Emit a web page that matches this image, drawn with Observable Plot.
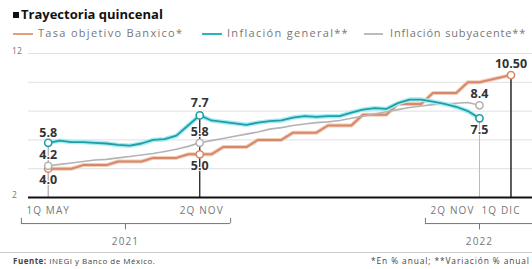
<!DOCTYPE html>
<html><head><meta charset="utf-8">
<script src="https://cdn.jsdelivr.net/npm/d3@7"></script>
<script src="https://cdn.jsdelivr.net/npm/@observablehq/plot@0.6"></script>
<style>
body{margin:0;width:532px;height:269px;overflow:hidden;background:#fff;font-family:"Open Sans",sans-serif;position:relative}
.abs{position:absolute;white-space:nowrap}
#title{left:13px;top:5px;font-size:13px;font-weight:bold;color:#111;letter-spacing:0px}
#title .sq{display:inline-block;width:6px;height:6px;background:#111;margin-right:2px;vertical-align:1px}
.leg{top:25px;font-size:11px;color:#777;letter-spacing:1.3px}
.sw{position:absolute;top:33px;height:2px}
#sep{left:0;top:252px;width:532px;height:1px;background:#ccc}
.foot{top:255px;font-size:8px;color:#444;letter-spacing:0.5px}
#chart{position:absolute;left:0;top:42px}
</style></head><body>
<div id="title" class="abs"><span class="sq"></span>Trayectoria quincenal</div>
<div class="sw" style="left:13px;width:20px;background:#e0a07f"></div>
<div class="abs leg" style="left:38px">Tasa objetivo Banxico*</div>
<div class="sw" style="left:202px;width:20px;background:#2bb3c0"></div>
<div class="abs leg" style="left:227px">Inflación general**</div>
<div class="sw" style="left:364px;width:19px;background:#bbb"></div>
<div class="abs leg" style="left:390px;letter-spacing:0.85px">Inflación subyacente**</div>
<div id="chart"></div>
<div id="sep" class="abs"></div>
<div class="abs foot" style="left:13px"><b>Fuente:</b> INEGI y Banco de México.</div>
<div class="abs foot" style="left:371px;font-size:8.4px;letter-spacing:0.9px">*En % anual; **Variación % anual</div>
<script>
// fortnight index: 0 = 1Q May 2021 ... 37 = 2Q Nov 2022
const quincena = d3.range(38);
const inflacionGeneral = [5.8,5.95,5.85,5.85,5.8,5.75,5.65,5.6,5.75,6.0,6.05,6.3,7.0,7.7,
  7.35,7.25,7.15,7.05,7.2,7.3,7.35,7.55,7.65,7.6,7.65,7.65,7.9,8.1,8.2,8.15,8.55,8.8,8.8,8.65,8.5,8.3,8.0,7.5];
const inflacionSubyacente = [4.2,4.3,4.4,4.5,4.6,4.65,4.75,4.85,4.95,5.05,5.2,5.35,5.55,5.8,
  5.95,6.1,6.25,6.4,6.55,6.75,6.85,7.0,7.1,7.2,7.25,7.35,7.5,7.65,7.8,7.95,8.1,8.25,8.35,8.45,8.5,8.55,8.6,8.4];
const tasaObjetivo = [4.0,4.0,4.0,4.25,4.25,4.25,4.5,4.5,4.5,4.75,4.75,4.75,5.0,5.0,
  5.0,5.5,5.5,5.5,6.0,6.0,6.0,6.5,6.5,6.5,7.0,7.0,7.0,7.75,7.75,7.75,8.5,8.5,8.5,9.25,9.25,9.25,10.0,10.0];
const tasaDicQ = 39.7, tasaDic = 10.5; // 1Q DIC 2022
const yTickLabels = [12, 2];
const gridValues = [4, 6, 8, 10, 12];
const tickLabels = [
  {q: 0, t: "1Q MAY", a: "middle", dx: 0},
  {q: 13, t: "2Q NOV", a: "middle", dx: 2},
  {q: 37, t: "2Q NOV", a: "end", dx: -5},
  {q: 37, t: "1Q DIC", a: "start", dx: 2}
];
const years = [
  {t: "2021", x1: -2.3, x2: 15.65, mid: 6.63},
  {t: "2022", x1: 32.36, x2: 43, mid: 37}
];

const C_ORANGE = "#d6896a", C_ORANGE_H = "#f3cdb8";
const C_TEAL = "#1f9ea9", C_TEAL_H = "#a6ecf1";
const C_GRAY = "#b3b3b3";

const gen = quincena.map((q, i) => ({q, v: inflacionGeneral[i]}));
const sub = quincena.map((q, i) => ({q, v: inflacionSubyacente[i]}));
const tasa = quincena.map((q, i) => ({q, v: tasaObjetivo[i]})).concat([{q: tasaDicQ, v: tasaDic}]);

const last = quincena.length - 1;
const vlines = [
  {q: 0, top: inflacionGeneral[0], c: "#999", w: 1},
  {q: 13, top: inflacionGeneral[13], c: "#222", w: 1.3},
  {q: last, top: inflacionGeneral[last], c: "#bbb", w: 1},
  {q: tasaDicQ, top: tasaDic, c: "#333", w: 1.6}
];
const markers = [
  {q: 0, v: tasaObjetivo[0], c: C_ORANGE}, {q: 0, v: inflacionSubyacente[0], c: C_GRAY}, {q: 0, v: inflacionGeneral[0], c: C_TEAL},
  {q: 13, v: tasaObjetivo[13], c: C_ORANGE}, {q: 13, v: inflacionSubyacente[13], c: C_GRAY}, {q: 13, v: inflacionGeneral[13], c: C_TEAL},
  {q: last, v: inflacionSubyacente[last], c: C_GRAY}, {q: last, v: inflacionGeneral[last], c: C_TEAL},
  {q: tasaDicQ, v: tasaDic, c: C_ORANGE}
];
const labels = [
  {q: 0, v: inflacionGeneral[0], t: "5.8", dy: -10},
  {q: 0, v: inflacionSubyacente[0], t: "4.2", dy: -11},
  {q: 0, v: tasaObjetivo[0], t: "4.0", dy: 11},
  {q: 13, v: inflacionGeneral[13], t: "7.7", dy: -12},
  {q: 13, v: inflacionSubyacente[13], t: "5.8", dy: -11},
  {q: 13, v: tasaObjetivo[13], t: "5.0", dy: 12},
  {q: last, v: inflacionSubyacente[last], t: "8.4", dy: -11},
  {q: last, v: inflacionGeneral[last], t: "7.5", dy: 12},
  {q: tasaDicQ, v: tasaDic, t: "10.50", dy: -11}
];

const X0 = -1.69, X1 = 45;
const chart = Plot.plot({
  width: 532, height: 210, margin: 0,
  x: {domain: [0, 37], range: [47.7, 479], axis: null},
  y: {domain: [2, 12], range: [155, 11], axis: null},
  style: {fontFamily: "Open Sans, sans-serif", background: "transparent"},
  marks: [
    Plot.ruleY(gridValues, {x1: X0, x2: X1, stroke: "#e0e0e0", strokeWidth: 1}),
    Plot.text(yTickLabels, {x: -3.1, y: d => d, text: d => String(d), textAnchor: "start", fontSize: 8.5, fill: "#777", dy: -2}),
    Plot.ruleX(vlines, {x: "q", y1: 2, y2: "top", stroke: "c", strokeWidth: "w"}),
    Plot.line(tasa, {x: "q", y: "v", stroke: C_ORANGE_H, strokeWidth: 4}),
    Plot.line(tasa, {x: "q", y: "v", stroke: C_ORANGE, strokeWidth: 2}),
    Plot.line(sub, {x: "q", y: "v", stroke: C_GRAY, strokeWidth: 1.6}),
    Plot.line(gen, {x: "q", y: "v", stroke: C_TEAL_H, strokeWidth: 4.5}),
    Plot.line(gen, {x: "q", y: "v", stroke: C_TEAL, strokeWidth: 1.8}),
    Plot.ruleY([2], {x1: X0, x2: X1, stroke: "#111", strokeWidth: 2}),
    Plot.dot(markers, {x: "q", y: "v", r: 3.6, fill: "white", stroke: "c", strokeWidth: 1.6}),
    ...labels.map(d => Plot.text([d], {x: "q", y: "v", text: "t", dy: d.dy, fontSize: 12.5, fontWeight: "bold", fill: "#333",
      stroke: "white", strokeWidth: 2, paintOrder: "stroke"})),
    ...tickLabels.map(d => Plot.text([d], {x: "q", y: 1.1, text: "t", textAnchor: d.a, dx: d.dx, fontSize: 10, fill: "#777"})),
    Plot.ruleY(years, {x1: "x1", x2: "x2", y: 0.19, stroke: "#777", strokeWidth: 1}),
    Plot.ruleX(years, {x: "x1", y1: 0.19, y2: 0.55, stroke: "#777", strokeWidth: 1}),
    Plot.ruleX(years, {x: "x2", y1: 0.19, y2: 0.55, stroke: "#777", strokeWidth: 1}),
    Plot.ruleX(years, {x: "mid", y1: 0.19, y2: -0.25, stroke: "#777", strokeWidth: 1}),
    Plot.text(years, {x: "mid", y: -1.07, text: "t", fontSize: 10, fill: "#777"})
  ]
});
// letter-spaced axis-style labels (ticks and years)
d3.select(chart).selectAll("g[font-size='10'] text").attr("letter-spacing", "1.1px");
document.getElementById("chart").appendChild(chart);
</script>
</body></html>
